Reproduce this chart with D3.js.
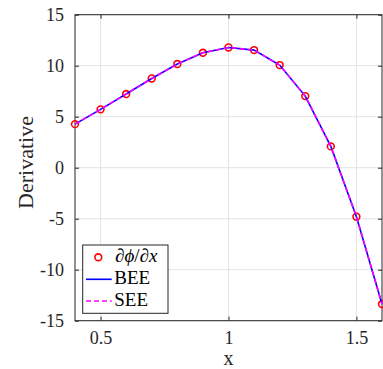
<!DOCTYPE html>
<html><head><meta charset="utf-8">
<script src="https://cdn.jsdelivr.net/npm/d3@7"></script>
<style>body{margin:0;background:#fff}svg{display:block}svg text{font-family:"Liberation Serif","Tinos","Times New Roman","DejaVu Serif",serif !important;}</style>
</head><body><svg id="c" width="383" height="369"></svg>
<script>
const xs = [0.4,0.5,0.6,0.7,0.8,0.9,1.0,1.1,1.2,1.3,1.4,1.5,1.6];
const dphi = [4.27,5.72,7.22,8.75,10.16,11.27,11.79,11.53,10.06,7.02,2.09,-4.80,-13.37];
const bee = [4.27,5.72,7.22,8.75,10.16,11.27,11.79,11.53,10.06,7.02,2.09,-4.80,-13.37];
const see = [4.27,5.72,7.22,8.75,10.16,11.27,11.79,11.53,10.06,7.02,2.09,-4.80,-13.37];
const xTicks = [0.5,1,1.5];
const yTicks = [-15,-10,-5,0,5,10,15];
const xDomain = [0.4,1.6], yDomain = [-15,15];

const svg = d3.select('#c');
const L=75, R=382, T=14.7, B=320.7;
const x = d3.scaleLinear().domain(xDomain).range([L,R]);
const y = d3.scaleLinear().domain(yDomain).range([B,T]);
const FONT = '"Liberation Serif","Tinos","Times New Roman","DejaVu Serif",serif';

// grid
const g = svg.append('g');
g.selectAll('.gx').data(xTicks).join('line').attr('x1',d=>x(d)).attr('x2',d=>x(d)).attr('y1',T).attr('y2',B).attr('stroke','#e3e3e3').attr('stroke-width',1);
g.selectAll('.gy').data(yTicks).join('line').attr('y1',d=>y(d)).attr('y2',d=>y(d)).attr('x1',L).attr('x2',R).attr('stroke','#e3e3e3').attr('stroke-width',1);

const fmt = d=>String(d);
const styleAxis = a=>{a.attr('font-family',FONT);a.select('.domain').remove();a.selectAll('text').attr('font-size',18).style('font-family',FONT).attr('fill','#262626');a.selectAll('line').attr('stroke','#262626');};
svg.append('g').attr('transform',`translate(0,${B})`).call(d3.axisBottom(x).tickValues(xTicks).tickSizeInner(-4).tickSizeOuter(0).tickPadding(10.5).tickFormat(fmt)).call(styleAxis);
svg.append('g').attr('transform',`translate(0,${T})`).call(d3.axisTop(x).tickValues(xTicks).tickSizeInner(-4).tickSizeOuter(0).tickFormat('')).call(styleAxis);
svg.append('g').attr('transform',`translate(${L},0)`).call(d3.axisLeft(y).tickValues(yTicks).tickSizeInner(-4).tickSizeOuter(0).tickPadding(11).tickFormat(fmt)).call(styleAxis);
svg.append('g').attr('transform',`translate(${R},0)`).call(d3.axisRight(y).tickValues(yTicks).tickSizeInner(-4).tickSizeOuter(0).tickFormat('')).call(styleAxis);
svg.append('rect').attr('x',L).attr('y',T).attr('width',R-L).attr('height',B-T).attr('fill','none').attr('stroke','#262626').attr('stroke-width',1);

// data
const pts = xs.map((d,i)=>({x:d,y:dphi[i]}));
const line = d3.line().x(d=>x(d[0])).y(d=>y(d[1]));
svg.append('g').selectAll('circle').data(pts).join('circle').attr('cx',d=>x(d.x)).attr('cy',d=>y(d.y)).attr('r',3.4).attr('fill','none').attr('stroke','#ff0000').attr('stroke-width',1.6);
svg.append('path').attr('d',line(xs.map((d,i)=>[d,bee[i]]))).attr('fill','none').attr('stroke','#0000ff').attr('stroke-width',1.6);
svg.append('path').attr('d',line(xs.map((d,i)=>[d,see[i]]))).attr('fill','none').attr('stroke','#ff00ff').attr('stroke-width',1.6).attr('stroke-dasharray','5,3');

// labels
svg.append('text').attr('x',x(1)).attr('y',365).attr('text-anchor','middle').attr('font-size',20).attr('fill','#262626').style('font-family',FONT).text('x');
svg.append('text').attr('transform','translate(33,162.5) rotate(-90)').attr('text-anchor','middle').attr('font-size',22).attr('fill','#262626').style('font-family',FONT).text('Derivative');

// legend
const lg = svg.append('g').style('font-family',FONT);
lg.append('rect').attr('x',82.7).attr('y',245).attr('width',85.3).attr('height',68.3).attr('fill','#fff').attr('stroke','#262626').attr('stroke-width',1);
lg.append('circle').attr('cx',98.3).attr('cy',257.3).attr('r',3.4).attr('fill','none').attr('stroke','#ff0000').attr('stroke-width',1.6);
lg.append('line').attr('x1',86).attr('x2',111.7).attr('y1',279.3).attr('y2',279.3).attr('stroke','#0000ff').attr('stroke-width',1.6);
lg.append('line').attr('x1',86).attr('x2',111.7).attr('y1',301).attr('y2',301).attr('stroke','#ff00ff').attr('stroke-width',1.6).attr('stroke-dasharray','5,3');
const t1 = lg.append('text').attr('x',115).attr('y',262).attr('font-size',19).attr('fill','#000');
t1.append('tspan').text('∂');
t1.append('tspan').attr('font-style','italic').text('ϕ');
t1.append('tspan').text('/∂');
t1.append('tspan').attr('font-style','italic').text('x');
lg.append('text').attr('x',114.3).attr('y',284.3).attr('font-size',19).attr('fill','#000').text('BEE');
lg.append('text').attr('x',114.3).attr('y',306).attr('font-size',19).attr('fill','#000').text('SEE');
</script></body></html>
